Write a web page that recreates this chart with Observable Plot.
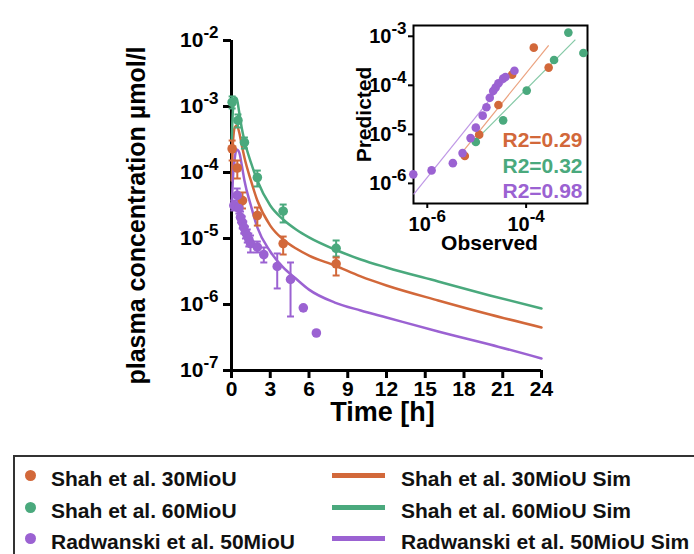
<!DOCTYPE html>
<html><head><meta charset="utf-8">
<script src="https://cdn.jsdelivr.net/npm/d3@7"></script>
<script src="https://cdn.jsdelivr.net/npm/@observablehq/plot@0.6"></script>
<style>
body{margin:0;background:#fff;width:694px;height:554px;overflow:hidden;position:relative;font-family:"Liberation Sans",Arial,sans-serif;font-weight:bold;}
#main{position:absolute;left:0;top:0}
#inset{position:absolute;left:350px;top:10px}
#legend{position:absolute;left:13px;top:455px;width:720px;height:130px;border:2px solid #333;box-sizing:border-box}
.lt{position:absolute;font-size:21px;line-height:24px;white-space:nowrap;color:#111}
.ld{position:absolute;width:11px;height:11px;border-radius:50%}
.ll{position:absolute;width:53px;height:5px}
</style></head><body>
<div id="main"></div><div id="inset"></div><div id="legend"></div>
<script>
// ---------- data ----------
const series = ["Shah et al. 30MioU", "Shah et al. 60MioU", "Radwanski et al. 50MioU"];
const colors = ["#d2683a", "#4aa97d", "#9b62d2"];
const fitColors = ["#eba27f", "#85c9a6", "#bf98e6"];

const shah30Time = [0.05, 0.45, 0.85, 2.0, 4.0, 8.1];
const shah30Conc = [2.29e-4, 1.17e-4, 3.76e-5, 2.23e-5, 8.39e-6, 4.14e-6];
const shah30Lo   = [1.52e-4, 8.11e-5, 2.85e-5, 1.57e-5, 5.72e-6, 2.75e-6];
const shah30Hi   = [3.05e-4, 1.52e-4, 4.98e-5, 2.95e-5, 1.07e-5, 5.15e-6];

const shah60Time = [0.05, 0.5, 1.0, 2.0, 4.0, 8.1];
const shah60Conc = [1.16e-3, 6.14e-4, 2.85e-4, 8.4e-5, 2.59e-5, 7.1e-6];
const shah60Lo   = [9.33e-4, 4.81e-4, 2.31e-4, 6.14e-5, 1.75e-5, 5.33e-6];
const shah60Hi   = [1.42e-3, 7.57e-4, 3.39e-4, 1.07e-4, 3.27e-5, 9.33e-6];

const radTime = [0.18, 0.44, 0.57, 0.7, 0.83, 0.95, 1.08, 1.22, 1.34, 1.47, 2.0, 2.5, 3.54, 4.57, 5.56, 6.57];
const radConc = [3.16e-5, 4.5e-5, 2.85e-5, 2.1e-5, 1.77e-5, 1.48e-5, 1.24e-5, 1.11e-5, 9.7e-6, 8.4e-6, 7.4e-6, 5.7e-6, 3.77e-6, 2.4e-6, 8.9e-7, 3.7e-7];
const radLo   = [2.66e-5, 3.39e-5, 2.39e-5, 1.75e-5, 1.42e-5, 1.19e-5, 1.0e-5, 8.69e-6, 7.57e-6, 6.14e-6, 6.14e-6, 4.33e-6, 1.75e-6, 6.58e-7, null, null];
const radHi   = [3.76e-5, 5.72e-5, 3.39e-5, 2.56e-5, 2.16e-5, 1.81e-5, 1.52e-5, 1.37e-5, 1.19e-5, 1.11e-5, 9.0e-6, 7.31e-6, 5.93e-6, 4.33e-6, null, null];

const simTime = [0.02, 0.1, 0.25, 0.4, 0.6, 0.8, 1, 1.5, 2, 3, 4, 5, 6, 8, 10, 12, 16, 20, 24];
const sim30 = [7.57e-5, 2.56e-4, 4.81e-4, 5.16e-4, 4.04e-4, 2.56e-4, 1.69e-4, 7.57e-5, 3.76e-5, 1.57e-5, 9.66e-6, 7.05e-6, 5.52e-6, 3.90e-6, 2.66e-6, 1.94e-6, 1.15e-6, 7.05e-7, 4.49e-7];
const sim60 = [3.05e-4, 8.11e-4, 1.37e-3, 1.32e-3, 8.11e-4, 4.64e-4, 3.05e-4, 1.42e-4, 7.57e-5, 3.16e-5, 1.94e-5, 1.37e-5, 1.04e-5, 6.81e-6, 4.81e-6, 3.64e-6, 2.23e-6, 1.37e-6, 8.69e-7];
const simRad = [3.16e-5, 7.57e-5, 1.63e-4, 2.23e-4, 2.01e-4, 1.28e-4, 7.57e-5, 3.16e-5, 1.47e-5, 6.35e-6, 3.64e-6, 2.45e-6, 1.68e-6, 1.07e-6, 8.11e-7, 6.35e-7, 3.90e-7, 2.48e-7, 1.52e-7];

// inset: observed vs predicted
const ins30Obs  = [4.35e-6, 8.49e-6, 2.08e-5, 3.94e-5, 1.08e-4, 2.16e-4];
const ins30Pred = [3.61e-6, 9.86e-6, 3.96e-5, 1.65e-4, 5.87e-4, 2.30e-4];
const ins60Obs  = [7.26e-6, 2.59e-5, 7.78e-5, 2.78e-4, 5.41e-4, 1.09e-3];
const ins60Pred = [6.97e-6, 1.93e-5, 7.80e-5, 3.28e-4, 1.19e-3, 4.56e-4];
const insRadObs  = [3.94e-7, 9.25e-7, 2.49e-6, 3.91e-6, 5.68e-6, 7.26e-6, 1.0e-5, 1.19e-5, 1.39e-5, 1.63e-5, 1.82e-5, 2.08e-5, 2.59e-5, 2.89e-5, 4.39e-5];
const insRadPred = [1.53e-6, 1.84e-6, 2.59e-6, 4.15e-6, 8.39e-6, 1.37e-5, 2.41e-5, 3.56e-5, 5.56e-5, 7.66e-5, 8.97e-5, 1.10e-4, 1.37e-4, 1.48e-4, 1.98e-4];
// fit lines [x1, y1, x2, y2]
const fit30  = [4.15e-6, 4.71e-6, 2.16e-4, 6.55e-4];
const fit60  = [7.74e-6, 8.17e-6, 7.5e-4, 8.57e-4];
const fitRad = [4.0e-7, 5.97e-7, 3.32e-5, 1.53e-4];
const r2Values = ["0.29", "0.32", "0.98"];

const xTicks = [0, 3, 6, 9, 12, 15, 18, 21, 24];
const yTicks = [1e-7, 1e-6, 1e-5, 1e-4, 1e-3, 1e-2];
const insetXTicks = [1e-6, 1e-4];
const insetYTicks = [1e-6, 1e-5, 1e-4, 1e-3];
const yLabel = "plasma concentration µmol/l";
const xLabel = "Time [h]";

// ---------- tidy rows ----------
const obsSets = [
  [shah30Time, shah30Conc, shah30Lo, shah30Hi],
  [shah60Time, shah60Conc, shah60Lo, shah60Hi],
  [radTime, radConc, radLo, radHi]
];
const obsRows = obsSets.flatMap(([t, v, lo, hi], i) => t.map((tt, j) => ({s: series[i], t: tt, v: v[j], lo: lo[j], hi: hi[j]})));
const barRows = obsRows.filter(d => d.lo != null);
const simSets = [sim30, sim60, simRad];
const simRows = simSets.flatMap((vals, i) => simTime.map((t, j) => ({s: series[i], t, v: vals[j]})));
const insSets = [[ins30Obs, ins30Pred], [ins60Obs, ins60Pred], [insRadObs, insRadPred]];
const insRows = insSets.flatMap(([o, p], i) => o.map((oo, j) => ({s: series[i], o: oo, p: p[j]})));
const fitRows = [fit30, fit60, fitRad].map((f, i) => ({s: series[i], x1: f[0], y1: f[1], x2: f[2], y2: f[3]}));

const font = "'Liberation Sans', Arial, Helvetica, sans-serif";
const fmtPow = d => "10^" + Math.round(Math.log10(d));
const capSymbol = {draw(ctx, size) { const w = Math.sqrt(size / Math.PI); ctx.moveTo(-w, 0); ctx.lineTo(w, 0); }};
const colorScale = {domain: series, range: colors};

// ---------- main chart ----------
const main = Plot.plot({
  width: 694, height: 440,
  marginLeft: 231, marginRight: 153, marginTop: 40, marginBottom: 70,
  style: {background: "transparent", fontFamily: font, fontWeight: "bold", fontSize: "21px", color: "#000", overflow: "visible"},
  x: {domain: [0, 24]},
  y: {type: "log", domain: [1e-7, 1e-2]},
  color: colorScale,
  marks: [
    Plot.axisX({ticks: xTicks, tickSize: 8, tickPadding: 3, strokeWidth: 3, label: null, fontSize: 21}),
    Plot.axisY({ticks: yTicks, tickSize: 8, tickPadding: 5, strokeWidth: 3, label: null, tickFormat: fmtPow, fontSize: 21}),
    Plot.ruleX([0], {y1: 1e-7, y2: 1e-2, strokeWidth: 3, stroke: "#000"}),
    Plot.ruleY([1e-7], {x1: 0, x2: 24, strokeWidth: 3, stroke: "#000"}),
    Plot.line(simRows, {x: "t", y: "v", z: "s", stroke: "s", strokeWidth: 2.5, curve: "monotone-x"}),
    Plot.ruleX(barRows, {x: "t", y1: "lo", y2: "hi", stroke: "s", strokeWidth: 2}),
    Plot.dot(barRows, {x: "t", y: "lo", symbol: capSymbol, r: 3.5, stroke: "s", fill: "none", strokeWidth: 2}),
    Plot.dot(barRows, {x: "t", y: "hi", symbol: capSymbol, r: 3.5, stroke: "s", fill: "none", strokeWidth: 2}),
    Plot.dot(obsRows, {x: "t", y: "v", fill: "s", r: 4.8}),
    Plot.text([yLabel], {frameAnchor: "left", textAnchor: "middle", lineAnchor: "middle", rotate: -90, dx: -95, dy: 10, fontSize: 25, fontWeight: "bold", fill: "#000"}),
    Plot.text([xLabel], {frameAnchor: "bottom", textAnchor: "middle", lineAnchor: "middle", dx: -4, dy: 42, fontSize: 27, fontWeight: "bold", fill: "#000"})
  ]
});

// ---------- inset ----------
const inset = Plot.plot({
  width: 252, height: 248,
  marginLeft: 63, marginRight: 15, marginTop: 15, marginBottom: 55,
  style: {background: "transparent", fontFamily: font, fontWeight: "bold", fontSize: "20px", color: "#000", overflow: "visible"},
  x: {type: "log", domain: [3.98e-7, 1.32e-3]},
  y: {type: "log", domain: [3.89e-7, 1.66e-3]},
  color: colorScale,
  marks: [
    Plot.frame({stroke: "#000", strokeWidth: 2}),
    Plot.axisY({ticks: insetYTicks, tickSize: 5, tickPadding: 2, strokeWidth: 2, label: null, tickFormat: fmtPow, fontSize: 20}),
    Plot.axisX({ticks: insetXTicks, tickSize: 5, tickPadding: 8, strokeWidth: 2, label: null, tickFormat: fmtPow, fontSize: 20, dx: -6}),
    ...fitRows.map((f, i) => Plot.link([f], {x1: "x1", y1: "y1", x2: "x2", y2: "y2", stroke: fitColors[i], strokeWidth: 1.2})),
    Plot.dot(insRows, {x: "o", y: "p", fill: "s", r: 4.3}),
    ...r2Values.map((v, i) => Plot.text([v], {text: d => "R2=" + d, frameAnchor: "bottom-right", textAnchor: "end", lineAnchor: "middle", dx: -5, dy: -63 + 25.5 * i, fill: colors[i], fontSize: 21, fontWeight: "bold"})),
    Plot.text(["Predicted"], {frameAnchor: "left", textAnchor: "middle", lineAnchor: "middle", rotate: -90, dx: -49, fontSize: 21, fontWeight: "bold", fill: "#000"}),
    Plot.text(["Observed"], {frameAnchor: "bottom", textAnchor: "middle", lineAnchor: "middle", dx: -11, dy: 40, fontSize: 21, fontWeight: "bold", fill: "#000"})
  ]
});

// ---------- superscript exponents ----------
const NS = "http://www.w3.org/2000/svg";
function supify(svg, expSize, raise) {
  svg.querySelectorAll("text").forEach(t => {
    const m = /^10\^(.+)$/.exec(t.textContent);
    if (!m) return;
    t.textContent = "";
    const a = document.createElementNS(NS, "tspan"); a.textContent = "10";
    const b = document.createElementNS(NS, "tspan"); b.textContent = m[1];
    b.setAttribute("dy", -raise); b.setAttribute("font-size", expSize);
    t.append(a, b);
  });
}
supify(main, 17, 9);
supify(inset, 17, 9);

document.getElementById("main").append(main);
document.getElementById("inset").append(inset);

// ---------- legend ----------
const legend = document.getElementById("legend");
const rowY = [22, 54, 85];
series.forEach((name, i) => {
  const d = document.createElement("div"); d.className = "ld";
  d.style.left = "10px"; d.style.top = (rowY[i] - 9) + "px"; d.style.background = colors[i];
  const t = document.createElement("div"); t.className = "lt";
  t.style.left = "36px"; t.style.top = (rowY[i] - 12) + "px"; t.textContent = name;
  const l = document.createElement("div"); l.className = "ll";
  l.style.left = "317px"; l.style.top = (rowY[i] - 6) + "px"; l.style.background = colors[i];
  const t2 = document.createElement("div"); t2.className = "lt";
  t2.style.left = "386px"; t2.style.top = (rowY[i] - 12) + "px"; t2.textContent = name + " Sim";
  legend.append(d, t, l, t2);
});
</script>
</body></html>
